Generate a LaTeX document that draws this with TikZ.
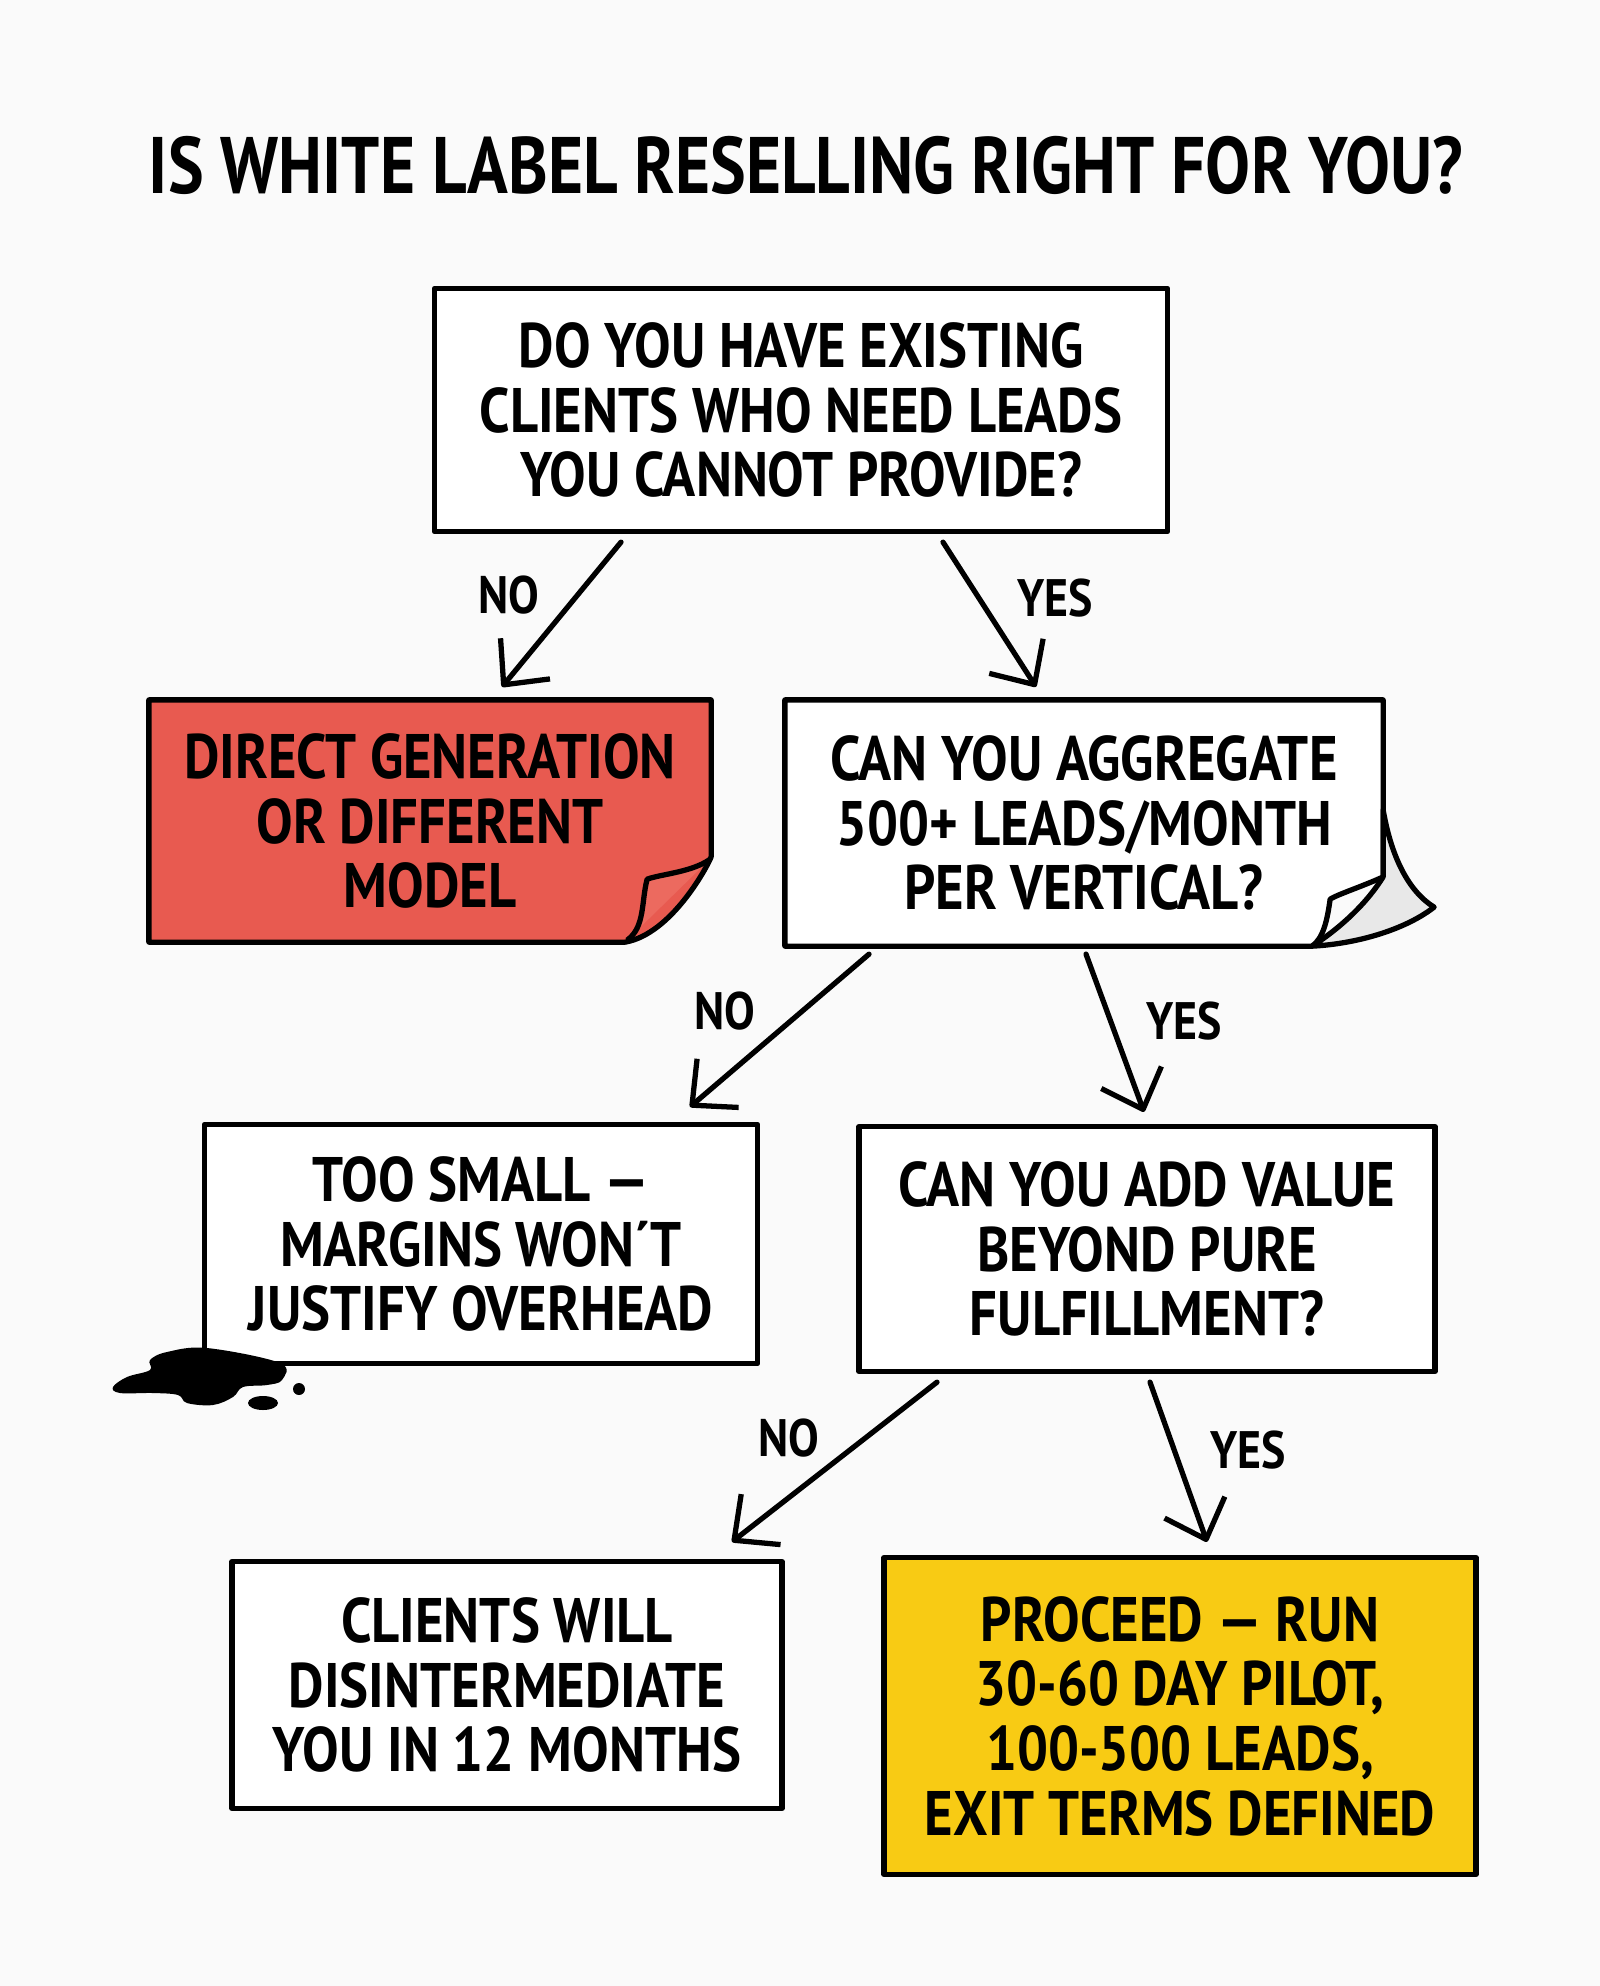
\documentclass[tikz,border=0pt]{standalone}
\usepackage{fontspec}
\setmainfont[FakeStretch=0.87]{PT Sans}
\newfontfamily\titlefont[FakeStretch=0.84]{PT Sans}
\usetikzlibrary{arrows.meta,calc}
\definecolor{paper}{HTML}{FAFAFA}
\definecolor{stopred}{HTML}{E85A50}
\definecolor{foldred}{HTML}{EC6A5F}
\definecolor{goyellow}{HTML}{F8CB14}
\pgfdeclarelayer{bg}
\pgfsetlayers{bg,main}

\begin{document}
\begin{tikzpicture}[x=0.1mm,y=-0.1mm,
  qbox/.style={draw,line width=1.5pt,line join=round,fill=white,inner sep=0pt,align=center,
    font=\bfseries\fontsize{17.9}{18.4}\selectfont},
  stopbox/.style={qbox,draw=none,fill=none},
  gobox/.style={qbox,fill=goyellow},
  lbl/.style={font=\bfseries\fontsize{15}{15}\selectfont,inner sep=0pt},
  flow/.style={line width=1.5pt,line cap=round,-{Straight Barb[length=3.4mm,width=6.4mm,line join=round]}}]
  \begin{pgfonlayer}{bg}
    \fill[paper] (0,0) rectangle (1600,1986);
  \end{pgfonlayer}
  \useasboundingbox (0,0) rectangle (1600,1986);
  \node[font=\titlefont\bfseries\fontsize{22.8}{24}\selectfont,inner sep=0pt] (title) at (806,165) {IS WHITE LABEL RESELLING RIGHT FOR YOU?};
  % questions and outcomes
  \node[qbox,minimum width=73.3mm,minimum height=24.3mm] (q1) at (801,410) {DO YOU HAVE EXISTING\\CLIENTS WHO NEED LEADS\\YOU CANNOT PROVIDE?};
  \node[stopbox,minimum width=55.7mm,minimum height=23.7mm] (direct) at (430,821) {DIRECT GENERATION\\OR DIFFERENT\\MODEL};
  \node[stopbox,minimum width=59.3mm,minimum height=24.1mm] (q2) at (1084,823) {CAN YOU AGGREGATE\\500+ LEADS/MONTH\\PER VERTICAL?};
  \node[qbox,minimum width=55.3mm,minimum height=23.9mm] (small) at (481,1244) {TOO SMALL —\\MARGINS WON´T\\JUSTIFY OVERHEAD};
  \node[qbox,minimum width=57.6mm,minimum height=24.5mm] (q3) at (1147,1249) {CAN YOU ADD VALUE\\BEYOND PURE\\FULFILLMENT?};
  \node[qbox,minimum width=55mm,minimum height=24.7mm] (clients) at (507,1685) {CLIENTS WILL\\DISINTERMEDIATE\\YOU IN 12 MONTHS};
  \node[gobox,minimum width=59.2mm,minimum height=31.7mm] (pilot) at (1180,1716) {PROCEED — RUN\\30-60 DAY PILOT,\\100-500 LEADS,\\EXIT TERMS DEFINED};
  % sheets with turned corners
  \begin{pgfonlayer}{bg}
    \draw[fill=stopred,line width=1.5pt,line join=round] (direct.north west) -- (direct.north east)
      -- ($(direct.north east)+(0,157)$) .. controls ($(direct.south east)+(-4,-75)$) and ($(direct.south east)+(-40,-8)$) .. ($(direct.south east)+(-86,0)$)
      -- (direct.south west) -- cycle;
    \draw[fill=foldred,line width=1.5pt,line join=round] ($(direct.north east)+(-2,160)$)
      .. controls ($(direct.south east)+(-20,-70)$) and ($(direct.south east)+(-50,-68)$) .. ($(direct.south east)+(-64,-63)$)
      .. controls ($(direct.south east)+(-70,-40)$) and ($(direct.south east)+(-66,-15)$) .. ($(direct.south east)+(-84,-2)$);
    \draw[fill=white,line width=1.5pt,line join=round] (q2.north west) -- (q2.north east)
      -- ($(q2.north east)+(0,177)$) .. controls ($(q2.south east)+(-20,-60)$) and ($(q2.south east)+(-45,-52)$) .. ($(q2.south east)+(-53,-47)$)
      .. controls ($(q2.south east)+(-56,-25)$) and ($(q2.south east)+(-60,-8)$) .. ($(q2.south east)+(-71,0)$)
      -- (q2.south west) -- cycle;
    \draw[fill=gray!18,line width=1.5pt,line join=round] ($(q2.north east)+(0,110)$)
      .. controls ($(q2.south east)+(8,-90)$) and ($(q2.south east)+(25,-55)$) .. ($(q2.south east)+(51,-39)$)
      .. controls ($(q2.south east)+(20,-15)$) and ($(q2.south east)+(-30,-2)$) .. ($(q2.south east)+(-71,0)$)
      .. controls ($(q2.south east)+(-40,-20)$) and ($(q2.south east)+(-15,-45)$) .. ($(q2.north east)+(0,177)$) -- cycle;
  \end{pgfonlayer}
  % ink blot
  \fill[black] plot[smooth cycle,tension=0.6] coordinates {(113,1387) (127,1377) (150,1370) (150,1360) (167,1352) (207,1348) (280,1363) (282,1380) (267,1385) (243,1387) (233,1397) (213,1405) (187,1403) (178,1395) (153,1393) (120,1393)};
  \fill[black] (299,1389) circle (6);
  \fill[black] (263,1403) ellipse (15 and 7);
  % arrows
  \draw[flow] ($(q1.south)+(-180,8)$) -- ($(direct.north)+(72,-13)$);
  \draw[flow] ($(q1.south)+(142,8)$) -- ($(q2.north)+(-48,-13)$);
  \draw[flow] ($(q2.south)+(-215,8)$) -- ($(small.north)+(209,-15)$);
  \draw[flow] ($(q2.south)+(2,8)$) -- ($(q3.north)+(-3,-12)$);
  \draw[flow] ($(q3.south)+(-210,8)$) -- ($(clients.north)+(225,-17)$);
  \draw[flow] ($(q3.south)+(3,8)$) -- ($(pilot.north)+(27,-13)$);
  \node[lbl] (no1) at (509,595) {NO};
  \node[lbl] (yes1) at (1055,598) {YES};
  \node[lbl] (no2) at (725,1011) {NO};
  \node[lbl] (yes2) at (1184,1021) {YES};
  \node[lbl] (no3) at (789,1438) {NO};
  \node[lbl] (yes3) at (1248,1450) {YES};
\end{tikzpicture}
\end{document}
